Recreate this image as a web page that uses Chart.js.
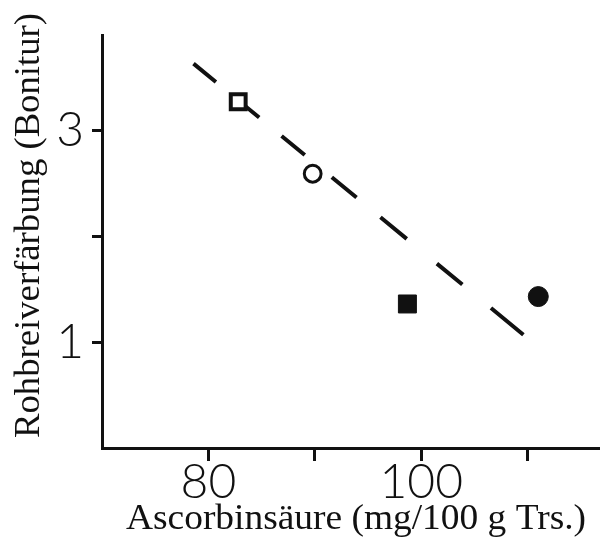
<!DOCTYPE html>
<html>
<head>
<meta charset="utf-8">
<script src="https://cdn.jsdelivr.net/npm/chart.js@4"></script>
<style>
html,body{margin:0;padding:0;background:#fff;overflow:hidden;}
#wrap{width:600px;height:545px;}
</style>
</head>
<body>
<div id="wrap"><canvas id="c" width="600" height="545"></canvas></div>
<script>
// ---- data ----
const xTitle = 'Ascorbinsäure (mg/100 g Trs.)';
const yTitle = 'Rohbreiverfärbung (Bonitur)';
const xTickValues = [80, 90, 100, 110];
const xTickLabels = ['80', '', '100', ''];
const yTickValues = [1, 2, 3];
const yTickLabels = ['1', '', '3'];
// measured samples (Ascorbinsäure, Bonitur)
const pointX = [82.8, 89.8, 98.7, 111.0];
const pointY = [3.27, 2.59, 1.36, 1.43];
const pointShape = ['rect', 'circle', 'rect', 'circle'];
const pointFilled = [false, false, true, true];
// dashed regression line
const fitX = [78.6, 109.6];
const fitY = [3.63, 1.07];

const INK = '#111';
const tickFont = {family: 'Lato, "DejaVu Sans", sans-serif', size: 48, weight: 300};
// hand-drawn dash rhythm (dash, gap, ...)
const dashPattern = [29, 31, 25, 29, 30, 35, 32, 31, 34, 39, 33, 37, 43, 60];

const titlePlugin = {
  id: 'axisTitles',
  afterDraw(chart) {
    const ctx = chart.ctx;
    ctx.save();
    ctx.fillStyle = INK;
    ctx.font = '35px "Liberation Serif", "Times New Roman", serif';
    ctx.textBaseline = 'alphabetic';
    ctx.textAlign = 'left';
    // x title
    let w = ctx.measureText(xTitle).width;
    let target = 460;
    ctx.save();
    ctx.translate(126, 529);
    ctx.scale(target / w, 1);
    ctx.fillText(xTitle, 0, 0);
    ctx.restore();
    // y title
    w = ctx.measureText(yTitle).width;
    target = 425;
    ctx.save();
    ctx.translate(39, 438);
    ctx.rotate(-Math.PI / 2);
    ctx.scale(target / w, 1);
    ctx.fillText(yTitle, 0, 0);
    ctx.restore();
    ctx.restore();
  }
};

new Chart(document.getElementById('c'), {
  type: 'scatter',
  data: {
    datasets: [
      {
        label: 'Proben',
        data: pointX.map((x, i) => ({x, y: pointY[i]})),
        pointStyle: pointShape,
        pointRadius: pointShape.map((s, i) => s === 'rect' ? (pointFilled[i] ? 12.7 : 10.5) : (pointFilled[i] ? 10 : 8.4)),
        pointBorderWidth: pointFilled.map((f, i) => f ? 1 : (pointShape[i] === 'rect' ? 4 : 3)),
        pointBackgroundColor: pointFilled.map(f => f ? INK : '#fff'),
        pointBorderColor: INK,
        showLine: false
      },
      {
        label: 'Regression',
        data: fitX.map((x, i) => ({x, y: fitY[i]})),
        showLine: true,
        borderColor: INK,
        borderWidth: 4,
        borderDash: dashPattern,
        borderDashOffset: 0,
        borderCapStyle: 'butt',
        pointRadius: 0
      }
    ]
  },
  options: {
    responsive: false,
    animation: false,
    layout: {autoPadding: false, padding: {top: 35, left: 0, right: 0, bottom: 0}},
    plugins: {legend: {display: false}, tooltip: {enabled: false}},
    scales: {
      x: {
        type: 'linear',
        min: 70,
        max: 116.8,
        afterBuildTicks: s => { s.ticks = xTickValues.map(v => ({value: v})); },
        afterFit: s => { s.height = 97; s.paddingRight = 0; s.paddingLeft = 0; },
        ticks: {
          autoSkip: false,
          maxRotation: 0,
          color: INK,
          font: tickFont,
          padding: -7,
          callback: v => xTickLabels[xTickValues.indexOf(v)]
        },
        grid: {drawOnChartArea: false, drawTicks: true, tickLength: 13, color: INK, lineWidth: 3},
        border: {color: INK, width: 3}
      },
      y: {
        type: 'linear',
        min: 0,
        max: 3.9,
        afterBuildTicks: s => { s.ticks = yTickValues.map(v => ({value: v})); },
        afterFit: s => { s.width = 102; s.paddingTop = 0; s.paddingBottom = 0; },
        ticks: {
          autoSkip: false,
          color: INK,
          font: tickFont,
          padding: 8,
          callback: v => yTickLabels[yTickValues.indexOf(v)]
        },
        grid: {drawOnChartArea: false, drawTicks: true, tickLength: 10, color: INK, lineWidth: 3},
        border: {color: INK, width: 3}
      }
    }
  },
  plugins: [titlePlugin]
});
</script>
</body>
</html>
